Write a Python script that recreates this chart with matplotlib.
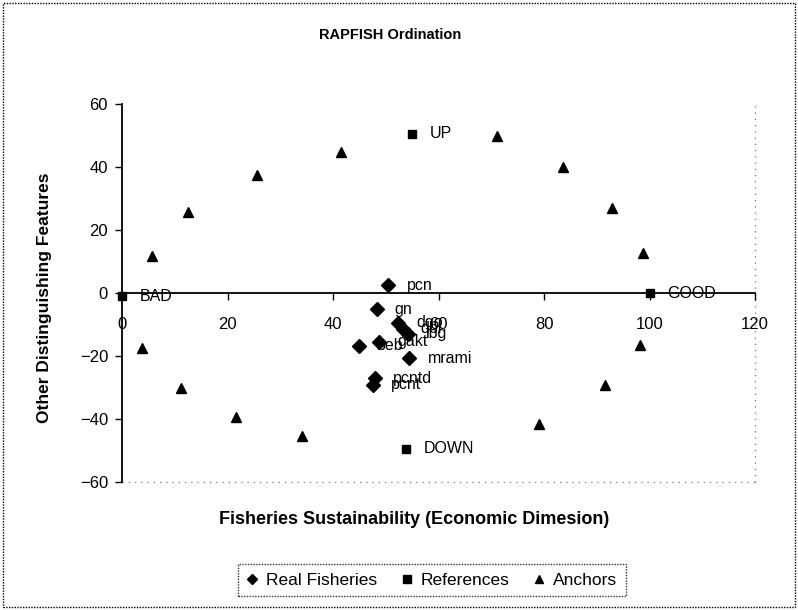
import matplotlib
matplotlib.use("Agg")
import matplotlib.pyplot as plt
from matplotlib.patches import Rectangle
from matplotlib.lines import Line2D

plt.rcParams['font.family'] = ['Liberation Sans', 'DejaVu Sans']

# Real fisheries
fish_names = ["pcn", "gn", "dgo", "dbl", "lbg", "beb", "gakt", "mrami", "pcntd", "pcnt"]
fish_x = [50.5, 48.3, 52.4, 53.2, 54.2, 44.9, 48.7, 54.5, 48.0, 47.6]
fish_y = [2.5, -5.1, -9.5, -11.3, -13.0, -16.8, -15.5, -20.7, -27.1, -29.2]

# References
ref_names = ["BAD", "GOOD", "UP", "DOWN"]
ref_x = [0.0, 100.0, 55.0, 53.8]
ref_y = [-1.0, 0.0, 50.5, -49.5]

# Anchors
anc_x = [5.6, 12.6, 25.6, 41.5, 71.1, 83.6, 92.9, 98.8, 98.2, 91.6, 79.0, 34.1, 21.6, 11.2, 3.8]
anc_y = [11.7, 25.6, 37.5, 44.8, 49.8, 40.0, 27.0, 12.7, -16.5, -29.2, -41.6, -45.4, -39.4, -30.2, -17.5]

x_ticks = [0, 20, 40, 60, 80, 100, 120]
y_ticks = [-60, -40, -20, 0, 20, 40, 60]

fig = plt.figure(figsize=(7.98, 6.10), dpi=100)
ax = fig.add_axes([122/798, 1-482/610, (755-122)/798, (482-104)/610])

ax.set_xlim(0, 120)
ax.set_ylim(-60, 60)

ax.spines['bottom'].set_position(('data', 0))
for s in ['top', 'right']:
    ax.spines[s].set_visible(False)
ax.spines['left'].set_linewidth(1.3)
ax.spines['bottom'].set_linewidth(1.3)
# faint dotted plot-area border (right and bottom)
for xs, ys in [([1, 1], [0, 1]), ([0, 1], [0, 0])]:
    ax.add_line(Line2D(xs, ys, transform=ax.transAxes, color='#777777',
                       linestyle=(0, (1, 4)), linewidth=0.9, zorder=0, clip_on=False))

ax.set_xticks(x_ticks)
ax.set_yticks(y_ticks)
ax.tick_params(axis='x', direction='out', length=5, width=1, pad=12, labelsize=12)
ax.tick_params(axis='y', direction='out', length=5, width=1, pad=5, labelsize=12)

ax.plot(fish_x, fish_y, linestyle='none', marker='D', markersize=7, color='black',
        label='Real Fisheries', zorder=3, clip_on=False)
ax.plot(ref_x, ref_y, linestyle='none', marker='s', markersize=6, color='black',
        label='References', zorder=3, clip_on=False)
ax.plot(anc_x, anc_y, linestyle='none', marker='^', markersize=7, color='black',
        label='Anchors', zorder=3, clip_on=False)

for n, x, y in zip(fish_names, fish_x, fish_y):
    ax.annotate(n, (x, y), xytext=(13, 0), textcoords='offset points',
                va='center', ha='left', fontsize=11.5)
for n, x, y in zip(ref_names, ref_x, ref_y):
    ax.annotate(n, (x, y), xytext=(13, 0), textcoords='offset points',
                va='center', ha='left', fontsize=11.5)

fig.text(390/798, 1-35/610, "RAPFISH Ordination", ha='center', va='center',
         fontsize=10.5, fontweight='bold')
fig.text(414/798, 1-520/610, "Fisheries Sustainability (Economic Dimesion)",
         ha='center', va='center', fontsize=13, fontweight='bold')
fig.text(45/798, 1-298/610, "Other Distinguishing Features", ha='center', va='center',
         rotation=90, fontsize=12.5, fontweight='bold')

leg = fig.legend(loc='center', bbox_to_anchor=(432/798, 1-580/610), ncol=3,
                 frameon=True, fancybox=False, fontsize=12.5, handlelength=0.6,
                 handletextpad=0.5, columnspacing=1.4, borderpad=0.5)
leg.get_frame().set_edgecolor('black')
leg.get_frame().set_linewidth(1.0)
leg.get_frame().set_linestyle((0, (1, 1)))
for h in leg.legend_handles:
    h.set_markersize(5.5)

fig.patches.append(Rectangle((3/798, 3/610), 792/798, 604/610, transform=fig.transFigure,
                             fill=False, edgecolor='black', linewidth=1.0,
                             linestyle=(0, (1, 1))))

fig.savefig("out.png", dpi=100)
